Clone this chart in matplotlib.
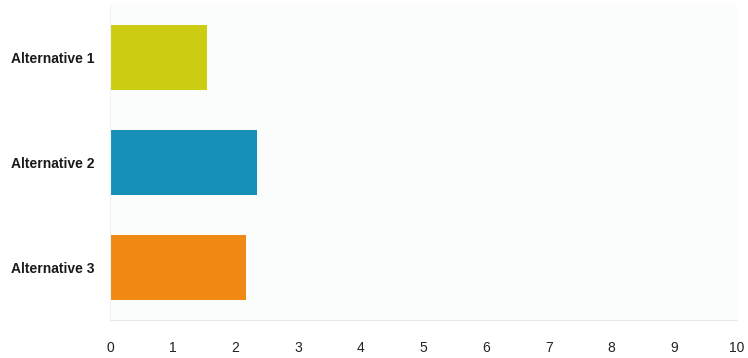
import matplotlib
matplotlib.use("Agg")
import matplotlib.pyplot as plt

# answer counts per alternative
labels = ["Alternative 1", "Alternative 2", "Alternative 3"]
counts = [1.55, 2.35, 2.17]
colors = ["#cccc12", "#1690b8", "#ef8912"]
ticks = list(range(0, 11))

plt.rcParams["font.family"] = ["Liberation Sans", "DejaVu Sans"]

fig = plt.figure(figsize=(7.48, 3.58), dpi=100)
ax = fig.add_axes([0.147, 0.106, 0.838, 0.88])
ax.set_facecolor("#fbfdfd")

ypos = list(range(len(labels)))
ax.barh(ypos, counts, height=0.62, color=colors)
ax.set_ylim(len(labels) - 0.5, -0.5)
ax.set_xlim(0, 10)

ax.set_yticks(ypos)
ax.set_yticklabels(labels, fontsize=10, fontweight="bold", color="#1a1a1a")
ax.set_xticks(ticks)
ax.set_xticklabels([str(t) for t in ticks], fontsize=10, color="#222222")
ax.tick_params(axis="both", length=0)
ax.tick_params(axis="x", pad=15)
ax.tick_params(axis="y", pad=11)

for side in ["top", "right"]:
    ax.spines[side].set_visible(False)
ax.spines["left"].set_color("#eef2f2")
ax.spines["bottom"].set_color("#e4e8e8")

fig.savefig("out.png", dpi=100, facecolor="white")
